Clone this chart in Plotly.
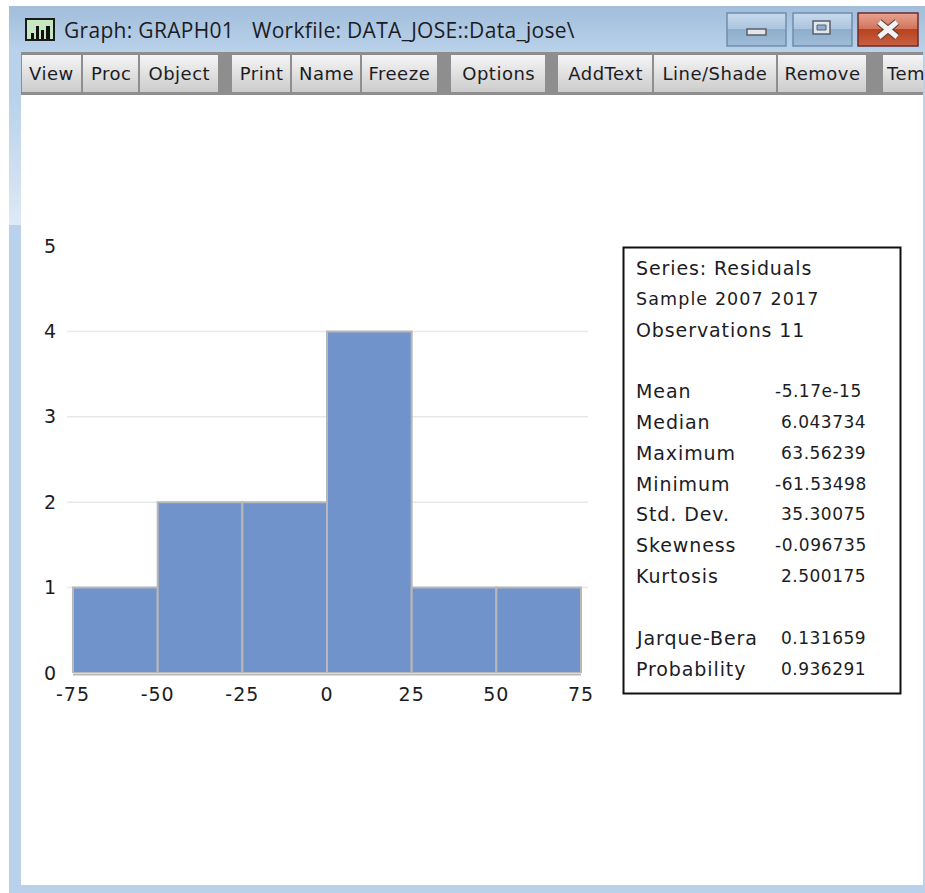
import plotly.graph_objects as go

# ---- data ----
bin_edges = [-75, -50, -25, 0, 25, 50, 75]
counts = [1, 2, 2, 4, 1, 1]
x_ticks = [-75, -50, -25, 0, 25, 50, 75]
y_ticks = [0, 1, 2, 3, 4, 5]
grid_levels = [1, 2, 3, 4]

stat_head = ["Series: Residuals", "Sample 2007 2017", "Observations 11"]
stat_head_sizes = [19, 17.5, 19]
stat_names = ["Mean", "Median", "Maximum", "Minimum", "Std. Dev.", "Skewness", "Kurtosis", "Jarque-Bera", "Probability"]
stat_values = ["-5.17e-15", "6.043734", "63.56239", "-61.53498", "35.30075", "-0.096735", "2.500175", "0.131659", "0.936291"]
stat_rows = [391, 422, 453, 484, 514, 545, 576, 638, 669]
head_rows = [268, 299, 330]

buttons = [("View", 22, 81), ("Proc", 83, 138), ("Object", 140, 218), ("Print", 232, 290),
           ("Name", 292, 360), ("Freeze", 362, 437), ("Options", 451, 545), ("AddText", 558, 652),
           ("Line/Shade", 654, 776), ("Remove", 778, 866), ("Tem", 883, 945)]

# ---- layout geometry (page pixels) ----
W, H = 925, 893
L, R, T, B = 67, 588, 246, 673
BAR = "#7093cb"; EDGE = "#b8b8b8"; GRID = "#e8e8e8"; FRAME = "#b9d1ea"; INK = "#1c1c24"
UI = "DejaVu Sans"
TITLE = "Open Sans"


def px(x):
    return (x - L) / (R - L)


def py(y):
    return (B - y) / (B - T)


def rect(x0, y0, x1, y1, fill, line=None, lw=1):
    return dict(type="rect", xref="paper", yref="paper", x0=px(x0), x1=px(x1),
                y0=py(y0), y1=py(y1), fillcolor=fill, line=dict(color=line or fill, width=lw if line else 0), layer="below")


def mix(a, b, t):
    ca = [int(a[i:i + 2], 16) for i in (1, 3, 5)]
    cb = [int(b[i:i + 2], 16) for i in (1, 3, 5)]
    return "#" + "".join(f"{round(u + (v - u) * t):02x}" for u, v in zip(ca, cb))


def vgrad(x0, y0, x1, y1, top, bottom, n=8):
    # painted top-down, each strip running to the bottom, so no seams show
    return [rect(x0, y0 + (y1 - y0) * i / n, x1, y1, mix(top, bottom, i / max(n - 1, 1))) for i in range(n)]


def text(x, y, s, size=17, anchor="left", font=UI, color=INK):
    return dict(xref="paper", yref="paper", x=px(x), y=py(y), text=s, showarrow=False, xanchor=anchor,
                yanchor="middle", borderpad=0, borderwidth=0,
                font=dict(family=font, size=size, color=color), align=anchor)


shapes = []
ann = []

# window frame
shapes.append(rect(9, 6, 925, 893, FRAME))
shapes += vgrad(9, 6, 925, 52, "#a2bedb", "#b9d1ea", 23)
shapes += vgrad(9, 95, 21, 225, "#b9d1ea", "#dde9f5", 26)
shapes.append(rect(21, 95, 923, 885, "#ffffff"))

# title icon
shapes.append(rect(26, 19, 54, 40, "#c5e8c2", "#1a1a1a", 2))
for a, b, c in [(31, 34, 33), (36, 39, 26), (41, 44, 30), (46, 50, 26)]:
    shapes.append(rect(a, c, b, 39, "#111111"))
ann.append(text(64, 30, "Graph: GRAPH01", 21, font=TITLE))
ann.append(text(252, 30, "Workfile: DATA_JOSE::Data_jose\\", 21, font=TITLE))

# window controls
for x0, x1, top, bot, ln in [(727, 786, "#c5d9ee", "#8faecd", "#6f8dac"), (793, 852, "#c5d9ee", "#8faecd", "#6f8dac"),
                             (858, 918, "#e8a090", "#b9431f", "#6d2a2a")]:
    shapes += vgrad(x0, 13, x1, 29, top, mix(top, bot, 0.45), 8)
    shapes += vgrad(x0, 29, x1, 46, bot, mix(top, bot, 0.7), 8)
    shapes.append(dict(type="rect", xref="paper", yref="paper", x0=px(x0), x1=px(x1), y0=py(13), y1=py(46),
                       fillcolor="rgba(0,0,0,0)", line=dict(color=ln, width=1.5), layer="below"))
shapes.append(rect(747, 29, 766, 35, "#e6e6e6", "#55606e", 1.5))
shapes.append(rect(813, 21, 830, 34, "#dfe6ee", "#55606e", 1.5))
shapes.append(rect(817, 25, 826, 30, "#8faecd", "#55606e", 1))
for (a, b, c, d) in [(879, 22, 897, 37), (879, 37, 897, 22)]:
    shapes.append(dict(type="line", xref="paper", yref="paper", x0=px(a), y0=py(b), x1=px(c), y1=py(d),
                       line=dict(color="#5a3a36", width=7), layer="below"))
for (a, b, c, d) in [(879, 22, 897, 37), (879, 37, 897, 22)]:
    shapes.append(dict(type="line", xref="paper", yref="paper", x0=px(a), y0=py(b), x1=px(c), y1=py(d),
                       line=dict(color="#f2f2f2", width=5), layer="below"))

# toolbar
shapes.append(rect(21, 52, 923, 95, "#8e8e8e"))
for label, x0, x1 in buttons:
    shapes += vgrad(x0, 55, min(x1, 923), 92, "#f4f4f4", "#cdcdcd", 18)
    if x1 <= 923:
        ann.append(text((x0 + x1) / 2, 73, label, 18, "center"))
    else:
        ann.append(text(886, 73, label, 18, "left"))

# stats box
shapes.append(dict(type="rect", xref="paper", yref="paper", x0=px(623.5), x1=px(900.5), y0=py(247.5), y1=py(693.5),
                   fillcolor="#ffffff", line=dict(color="#111111", width=2), layer="below"))
for s, y, sz in zip(stat_head, head_rows, stat_head_sizes):
    ann.append(text(636, y, s, sz))
for s, v, y in zip(stat_names, stat_values, stat_rows):
    ann.append(text(636, y, s, 19))
    ann.append(text(775 if v.startswith("-") else 781, y, v, 17))

# gridlines (levels 1-4 only, the top tick has none)
for g in grid_levels:
    shapes.append(dict(type="line", xref="paper", yref="y", x0=0, x1=1, y0=g, y1=g,
                       line=dict(color=GRID, width=1.5), layer="below"))

# baseline under the bars, from first to last bin edge
shapes.append(dict(type="line", xref="x", yref="paper", x0=bin_edges[0], x1=bin_edges[-1], y0=py(674.5), y1=py(674.5),
                   line=dict(color=EDGE, width=2), layer="above"))

centers = [(a + b) / 2 for a, b in zip(bin_edges[:-1], bin_edges[1:])]
widths = [b - a for a, b in zip(bin_edges[:-1], bin_edges[1:])]

fig = go.Figure(go.Bar(x=centers, y=counts, width=widths,
                       marker=dict(color=BAR, line=dict(color=EDGE, width=2)), cliponaxis=False))

# x scale: -75 at 73 px, 75 at 581 px
ppu = (581 - 73) / 150
fig.update_layout(
    width=W, height=H, autosize=False,
    margin=dict(l=L, r=W - R, t=T, b=H - B, pad=0),
    paper_bgcolor="#ffffff", plot_bgcolor="rgba(0,0,0,0)",
    showlegend=False, shapes=shapes, annotations=ann,
    font=dict(family=UI, color=INK, size=18),
    xaxis=dict(range=[-75 - (73 - L) / ppu, 75 + (R - 581) / ppu], tickmode="array", tickvals=x_ticks,
               ticktext=[str(v) for v in x_ticks], showgrid=False, zeroline=False, showline=False,
               ticks="", ticklabelstandoff=8, tickfont=dict(size=19, family=UI, color=INK)),
    yaxis=dict(range=[0, 5], tickmode="array", tickvals=y_ticks, ticktext=[str(v) for v in y_ticks],
               showgrid=False, zeroline=False, showline=False, ticks="", ticklabelstandoff=10,
               tickfont=dict(size=19, family=UI, color=INK)),
)

spacing = """
document.body.style.margin='0';document.body.style.overflow='hidden';
document.querySelectorAll('.annotation-text').forEach(function(t){
  var f=t.style.fontFamily||'', s=parseFloat(t.style.fontSize);
  var v='0.5px';
  if(f.indexOf('Open')>=0) v='0.3px';
  else if(s===19) v='0.9px';
  else if(s===17.5) v='1.1px';
  t.style.letterSpacing=v;
});
document.querySelectorAll('.xtick text').forEach(function(t){t.style.letterSpacing='1px';});
"""
fig.write_html("out.html", config=dict(displayModeBar=False, responsive=False), post_script=spacing)
